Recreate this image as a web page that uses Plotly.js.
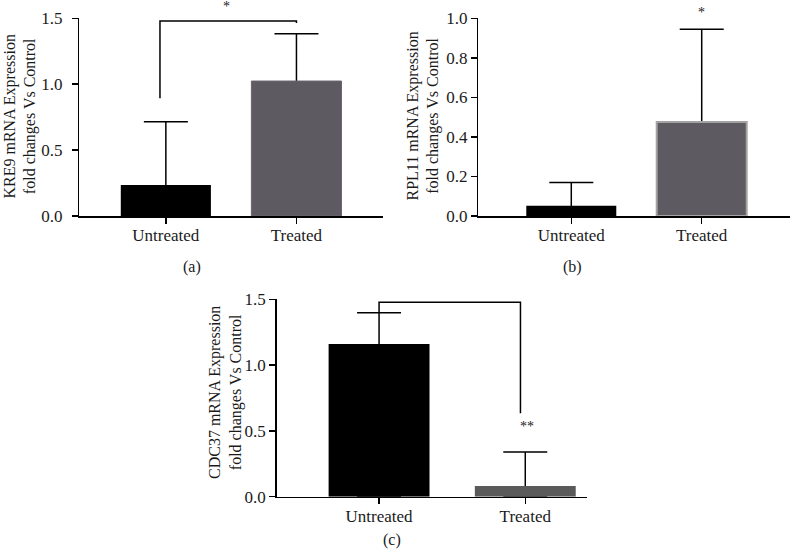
<!DOCTYPE html>
<html>
<head>
<meta charset="utf-8">
<script src="https://cdn.plot.ly/plotly-3.0.1.min.js"></script>
<style>html,body{margin:0;padding:0;background:#fff;}#chart{width:790px;height:557px;}</style>
</head>
<body>
<div id="chart"></div>
<script>
// ---- data ----
const categories = ['Untreated', 'Treated'];
const kre9Mean = [0.235, 1.024];
const kre9Err = [0.481, 0.359];
const rpl11Mean = [0.052, 0.475];
const rpl11Err = [0.117, 0.469];
const cdc37Mean = [1.160, 0.081];
const cdc37Err = [0.238, 0.259];
// significance brackets: [bar y, left leg bottom, right leg bottom]
const kre9Bracket = [1.479, 0.893, 1.465];
const cdc37Bracket = [1.477, 1.398, 0.634];
const kre9Star = '*';
const rpl11Star = '*';
const cdc37Star = '**';
const panelLabels = ['(a)', '(b)', '(c)'];
const yTitles = [
  'KRE9 mRNA Expression<br>fold changes Vs Control',
  'RPL11 mRNA Expression<br>fold changes Vs Control',
  'CDC37 mRNA Expression<br>fold changes Vs Control'
];

const W = 790, H = 557;
const FONT = 'Liberation Serif, Times New Roman, serif';
const TXT = '#1a1a1a';

// whisker carrier drawn first, so the visible bar hides the part of the whisker inside it
function whisker(y, err, xa, ya) {
  return { type: 'bar', x: categories, y: y, xaxis: xa, yaxis: ya, width: 0.69,
    marker: { color: 'rgba(0,0,0,0)', line: { width: 0 } },
    error_y: { type: 'data', symmetric: false, array: err, arrayminus: y, width: 22, thickness: 1.5, color: '#000' },
    showlegend: false, hoverinfo: 'skip' };
}
function bar(y, xa, ya, colors, lineColors, lineWidths) {
  return { type: 'bar', x: categories, y: y, xaxis: xa, yaxis: ya, width: 0.69,
    marker: { color: colors, line: { color: lineColors, width: lineWidths } },
    showlegend: false, hoverinfo: 'skip' };
}
const traces = [
  whisker(kre9Mean, kre9Err, 'x', 'y'),
  bar(kre9Mean, 'x', 'y', ['#000000', '#5e5a62'], ['#000', '#6a666e'], [0, 1]),
  whisker(rpl11Mean, rpl11Err, 'x2', 'y2'),
  bar(rpl11Mean, 'x2', 'y2', ['#000000', '#5d5a61'], ['#000', '#a3a3a3'], [0, 2]),
  whisker(cdc37Mean, cdc37Err, 'x3', 'y3'),
  bar(cdc37Mean, 'x3', 'y3', ['#000000', '#5a5a5a'], ['#000', '#5a5a5a'], [0, 0])
];
function xax(domain, range, anchor) {
  return { domain: domain, range: range, type: 'category', anchor: anchor,
    showline: true, linecolor: '#000', linewidth: 1.5,
    ticks: 'outside', ticklen: 6, tickwidth: 1.5, tickcolor: '#000', ticklabelstandoff: -3,
    showgrid: false, zeroline: false, fixedrange: true,
    tickfont: { family: FONT, size: 17, color: TXT } };
}
function yax(domain, range, dtick, anchor, suffix) {
  return { domain: domain, range: range, dtick: dtick, tick0: 0, tickformat: '.1f', anchor: anchor,
    ticksuffix: suffix,
    showline: true, linecolor: '#000', linewidth: 1.5,
    ticks: 'outside', ticklen: 6, tickwidth: 1.5, tickcolor: '#000',
    showgrid: false, zeroline: false, fixedrange: true,
    tickfont: { family: FONT, size: 17, color: TXT } };
}
const topDom = [1 - 216 / H, 1 - 18.3 / H];
const botDom = [1 - 496.7 / H, 1 - 299.3 / H];
const shapes = [
  { type: 'path', xref: 'x', yref: 'y',
    path: 'M -0.045,' + kre9Bracket[1] + ' L -0.045,' + kre9Bracket[0] + ' L 1,' + kre9Bracket[0] + ' L 1,' + kre9Bracket[2],
    line: { color: '#000', width: 1.5 } },
  { type: 'path', xref: 'x3', yref: 'y3',
    path: 'M 0,' + cdc37Bracket[1] + ' L 0,' + cdc37Bracket[0] + ' L 0.967,' + cdc37Bracket[0] + ' L 0.967,' + cdc37Bracket[2],
    line: { color: '#000', width: 1.5 } }
];
function ytitle(text, xpx, ypx) {
  return { xref: 'paper', yref: 'paper', x: xpx / W, y: 1 - ypx / H, text: text, textangle: -90,
    showarrow: false, xanchor: 'center', yanchor: 'middle', font: { family: FONT, size: 16, color: TXT } };
}
const annotations = [
  { xref: 'x', yref: 'y domain', x: 0.464, y: 1.062, text: kre9Star, showarrow: false,
    yanchor: 'middle', font: { family: FONT, size: 14, color: TXT } },
  { xref: 'x2', yref: 'y2 domain', x: 1, y: 1.027, text: rpl11Star, showarrow: false,
    yanchor: 'middle', font: { family: FONT, size: 14, color: TXT } },
  { xref: 'x3', yref: 'y3', x: 1.01, y: 0.53, text: cdc37Star, showarrow: false,
    yanchor: 'middle', font: { family: FONT, size: 14, color: TXT } },
  { xref: 'paper', yref: 'paper', x: 192 / W, y: 1 - 267 / H, text: panelLabels[0], showarrow: false,
    xanchor: 'center', yanchor: 'middle', font: { family: FONT, size: 16, color: TXT } },
  { xref: 'paper', yref: 'paper', x: 572 / W, y: 1 - 267 / H, text: panelLabels[1], showarrow: false,
    xanchor: 'center', yanchor: 'middle', font: { family: FONT, size: 16, color: TXT } },
  { xref: 'paper', yref: 'paper', x: 392 / W, y: 1 - 540 / H, text: panelLabels[2], showarrow: false,
    xanchor: 'center', yanchor: 'middle', font: { family: FONT, size: 16, color: TXT } },
  ytitle(yTitles[0], 20, 116.5),
  ytitle(yTitles[1], 423, 116.5),
  ytitle(yTitles[2], 225, 393)
];
const layout = {
  width: W, height: H, margin: { l: 0, r: 0, t: 0, b: 0 },
  paper_bgcolor: '#fff', plot_bgcolor: '#fff', barmode: 'overlay',
  xaxis: xax([79 / W, 383.3 / W], [-0.665, 1.665], 'y'),
  yaxis: yax(topDom, [0, 1.5], 0.5, 'x', '\u00a0\u200a'),
  xaxis2: xax([478.3 / W, 1], [-0.713, 1.677], 'y2'),
  yaxis2: yax(topDom, [0, 1.0], 0.2, 'x2', ''),
  xaxis3: xax([276.7 / W, 586.7 / W], [-0.70, 1.42], 'y3'),
  yaxis3: yax(botDom, [0, 1.5], 0.5, 'x3', ''),
  shapes: shapes, annotations: annotations
};
Plotly.newPlot('chart', traces, layout, { displayModeBar: false, staticPlot: true });
</script>
</body>
</html>
